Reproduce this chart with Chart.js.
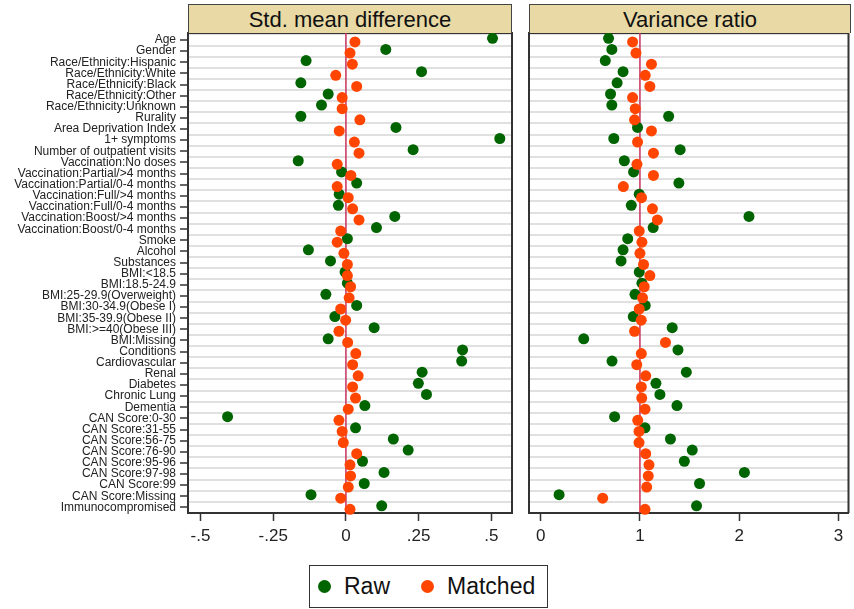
<!DOCTYPE html>
<html>
<head>
<meta charset="utf-8">
<script src="https://cdn.jsdelivr.net/npm/chart.js@4.4.1/dist/chart.umd.min.js"></script>
<style>
  body { margin: 0; background: #fff; font-family: "Liberation Sans", Arial, sans-serif; }
  #wrap { position: relative; width: 854px; height: 609px; overflow: hidden; }
  canvas { position: absolute; top: 0; }
  .head {
    position: absolute; top: 4px; height: 29px; box-sizing: border-box;
    background: #e8d9a5; border: 1px solid #444; border-bottom: none;
    font-size: 22px; line-height: 29px; text-align: center; color: #111;
  }
  #legend {
    position: absolute; left: 309px; top: 565px; width: 239px; height: 43px;
    box-sizing: border-box; border: 1.5px solid #333; font-size: 23px; color: #111;
  }
  #legend span { position: absolute; top: 7px; }
  #legend i { position: absolute; top: 14px; width: 13px; height: 13px; border-radius: 50%; }
</style>
</head>
<body>
<div id="wrap">
  <canvas id="smd" width="520" height="560" style="left:0"></canvas>
  <canvas id="vr" width="334" height="560" style="left:520px"></canvas>
  <div class="head" style="left:188px;width:324px">Std. mean difference</div>
  <div class="head" style="left:529px;width:322px">Variance ratio</div>
  <div id="legend">
    <i style="left:8px;background:#006400"></i><span style="left:34px">Raw</span>
    <i style="left:111px;background:#ff4500"></i><span style="left:137px">Matched</span>
  </div>
</div>
<script>
const categories = [
  "Age", "Gender", "Race/Ethnicity:Hispanic", "Race/Ethnicity:White", "Race/Ethnicity:Black",
  "Race/Ethnicity:Other", "Race/Ethnicity:Unknown", "Rurality", "Area Deprivation Index",
  "1+ symptoms", "Number of outpatient visits", "Vaccination:No doses",
  "Vaccination:Partial/>4 months", "Vaccination:Partial/0-4 months", "Vaccination:Full/>4 months",
  "Vaccination:Full/0-4 months", "Vaccination:Boost/>4 months", "Vaccination:Boost/0-4 months",
  "Smoke", "Alcohol", "Substances", "BMI:<18.5", "BMI:18.5-24.9", "BMI:25-29.9(Overweight)",
  "BMI:30-34.9(Obese I)", "BMI:35-39.9(Obese II)", "BMI:>=40(Obese III)", "BMI:Missing",
  "Conditions", "Cardiovascular", "Renal", "Diabetes", "Chronic Lung", "Dementia",
  "CAN Score:0-30", "CAN Score:31-55", "CAN Score:56-75", "CAN Score:76-90", "CAN Score:95-96",
  "CAN Score:97-98", "CAN Score:99", "CAN Score:Missing", "Immunocompromised"
];

const smdRaw = [0.504, 0.137, -0.137, 0.260, -0.155, -0.061, -0.084, -0.155, 0.172, 0.529,
  0.231, -0.164, -0.015, 0.037, -0.023, -0.026, 0.168, 0.105, 0.005, -0.129, -0.053, -0.003,
  0.005, -0.069, 0.037, -0.038, 0.097, -0.061, 0.401, 0.398, 0.262, 0.249, 0.277, 0.065,
  -0.407, 0.033, 0.163, 0.214, 0.057, 0.131, 0.063, -0.120, 0.123];
const smdMatched = [0.031, 0.014, 0.022, -0.035, 0.037, -0.013, -0.013, 0.048, -0.023, 0.029,
  0.045, -0.030, 0.017, -0.030, 0.008, 0.023, 0.045, -0.018, -0.030, -0.007, 0.005, 0.005,
  0.016, 0.011, -0.018, -0.001, -0.024, 0.006, 0.034, 0.023, 0.042, 0.023, 0.033, 0.008,
  -0.024, -0.013, -0.009, 0.037, 0.014, 0.016, 0.008, -0.018, 0.014];
const vrRaw = [0.684, 0.717, 0.651, 0.830, 0.770, 0.704, 0.717, 1.289, 0.976, 0.737, 1.405,
  0.843, 0.936, 1.392, 0.993, 0.913, 2.098, 1.133, 0.877, 0.830, 0.810, 0.993, 1.020, 0.950,
  1.053, 0.933, 1.325, 0.434, 1.383, 0.719, 1.467, 1.161, 1.201, 1.373, 0.745, 1.051, 1.307,
  1.527, 1.447, 2.052, 1.600, 0.186, 1.570];
const vrMatched = [0.926, 0.960, 1.116, 1.053, 1.100, 0.926, 0.953, 0.946, 1.116, 0.976, 1.136,
  0.970, 1.136, 0.833, 1.016, 1.126, 1.176, 0.993, 1.020, 1.000, 1.036, 1.100, 1.043, 1.026,
  0.993, 1.013, 0.946, 1.257, 1.014, 0.968, 1.058, 1.014, 1.018, 1.051, 0.978, 0.991, 0.991,
  1.058, 1.091, 1.084, 1.068, 0.625, 1.051];

const smdTicks = [-0.5, -0.25, 0, 0.25, 0.5];
const smdTickLabels = ["-.5", "-.25", "0", ".25", ".5"];
const vrTicks = [0, 1, 2, 3];
const vrTickLabels = ["0", "1", "2", "3"];

const FONT = '"Liberation Sans", Arial, sans-serif';
const Y_MIN = -0.63, Y_MAX = 42.5;

// top and right sides of the plot frame
const framePlugin = {
  id: 'frame',
  beforeDatasetsDraw(chart) {
    const a = chart.chartArea, ctx = chart.ctx;
    ctx.save();
    ctx.strokeStyle = '#333';
    ctx.lineWidth = 2;
    ctx.beginPath();
    ctx.moveTo(a.left, a.top);
    ctx.lineTo(a.right, a.top);
    ctx.lineTo(a.right, a.bottom);
    ctx.stroke();
    ctx.restore();
  }
};

function makePanel(id, raw, matched, ref, xMin, xMax, ticks, tickLabels, withLabels, pad) {
  new Chart(document.getElementById(id), {
    type: 'scatter',
    data: {
      datasets: [{
        label: 'Matched',
        data: matched.map((v, i) => ({ x: v, y: i + 0.17 })),
        backgroundColor: '#ff4500', borderWidth: 0, pointRadius: 5.5, order: 1
      }, {
        label: 'Raw',
        data: raw.map((v, i) => ({ x: v, y: i - 0.15 })),
        backgroundColor: '#006400', borderWidth: 0, pointRadius: 5.5, order: 2
      }, {
        label: 'ref',
        data: [{ x: ref, y: Y_MIN }, { x: ref, y: Y_MAX }],
        showLine: true, borderColor: '#c8325f', borderWidth: 1.5, pointRadius: 0, order: 3
      }]
    },
    options: {
      responsive: false,
      animation: false,
      clip: false,
      layout: { padding: pad },
      plugins: { legend: { display: false }, tooltip: { enabled: false } },
      scales: {
        x: {
          type: 'linear', min: xMin, max: xMax,
          afterBuildTicks: s => { s.ticks = ticks.map(v => ({ value: v })); },
          afterFit: s => { s.height = 47; },
          grid: { drawOnChartArea: false, tickLength: 8, tickColor: '#333', tickWidth: 1.5 },
          border: { color: '#333', width: 2 },
          ticks: {
            padding: 5, color: '#222', font: { family: FONT, size: 17 },
            callback: (v) => tickLabels[ticks.indexOf(v)]
          }
        },
        y: {
          type: 'linear', reverse: true, min: Y_MIN, max: Y_MAX,
          afterBuildTicks: s => {
            const t = [];
            for (let k = -1; k <= 85; k++) t.push({ value: k / 2 });
            s.ticks = t;
          },
          afterFit: s => { s.width = withLabels ? 188 : 0; },
          grid: {
            color: c => c.tick && !Number.isInteger(c.tick.value) ? '#e0e0e0' : 'rgba(0,0,0,0)',
            lineWidth: 2,
            drawTicks: withLabels,
            tickLength: 8,
            tickWidth: 1.5,
            tickColor: c => c.tick && Number.isInteger(c.tick.value) ? '#333' : 'rgba(0,0,0,0)'
          },
          border: { color: '#333', width: 2 },
          ticks: {
            display: withLabels, autoSkip: false, padding: 4, color: '#222',
            font: { family: FONT, size: 12 },
            callback: v => Number.isInteger(v) ? categories[v] : ''
          }
        }
      }
    },
    plugins: [framePlugin]
  });
}

makePanel('smd', smdRaw, smdMatched, 0, -0.543, 0.571, smdTicks, smdTickLabels, true,
  { top: 33, right: 8, left: 0, bottom: 0 });
makePanel('vr', vrRaw, vrMatched, 1, -0.117, 3.1, vrTicks, vrTickLabels, false,
  { top: 33, right: 3, left: 9, bottom: 0 });
</script>
</body>
</html>
